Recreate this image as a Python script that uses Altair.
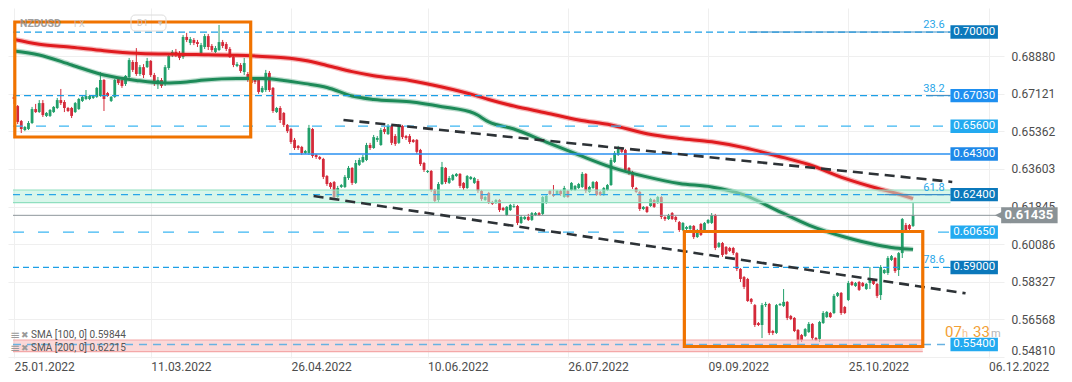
import altair as alt
import pandas as pd

# ---------------- data (NZDUSD D1, bar 0 = 25.01.2022) ----------------
opens = [0.6697,0.6654,0.6584,0.6542,0.6547,0.6575,0.6640,0.6626,0.6668,0.6608,
0.6608,0.6626,0.6645,0.6682,0.6673,0.6645,0.6645,0.6626,0.6640,0.6678,
0.6687,0.6687,0.6692,0.6697,0.6701,0.6776,0.6715,0.6678,0.6697,0.6781,
0.6776,0.6757,0.6790,0.6860,0.6860,0.6804,0.6836,0.6836,0.6865,0.6799,
0.6757,0.6776,0.6757,0.6832,0.6893,0.6907,0.6902,0.6883,0.6977,0.6949,
0.6963,0.6953,0.6902,0.6930,0.6981,0.6935,0.6907,0.6916,0.6953,0.6944,
0.6921,0.6883,0.6841,0.6846,0.6813,0.6804,0.6785,0.6776,0.6776,0.6720,
0.6729,0.6809,0.6739,0.6626,0.6645,0.6622,0.6566,0.6547,0.6496,0.6468,
0.6463,0.6435,0.6435,0.6547,0.6426,0.6416,0.6407,0.6327,0.6295,0.6299,
0.6229,0.6276,0.6276,0.6318,0.6365,0.6295,0.6379,0.6393,0.6402,0.6472,
0.6458,0.6496,0.6472,0.6547,0.6523,0.6561,0.6514,0.6482,0.6561,0.6514,
0.6514,0.6496,0.6496,0.6449,0.6388,0.6346,0.6351,0.6262,0.6215,0.6290,
0.6365,0.6295,0.6309,0.6327,0.6337,0.6295,0.6271,0.6313,0.6295,0.6304,
0.6257,0.6215,0.6248,0.6206,0.6201,0.6215,0.6178,0.6145,0.6168,0.6183,
0.6187,0.6108,0.6126,0.6136,0.6122,0.6145,0.6154,0.6150,0.6201,0.6257,
0.6243,0.6243,0.6257,0.6229,0.6257,0.6262,0.6262,0.6271,0.6276,0.6337,
0.6253,0.6271,0.6299,0.6253,0.6239,0.6262,0.6285,0.6393,0.6426,0.6454,
0.6449,0.6365,0.6346,0.6271,0.6253,0.6173,0.6183,0.6187,0.6215,0.6201,
0.6229,0.6136,0.6126,0.6154,0.6136,0.6112,0.6075,0.6080,0.6080,0.6094,
0.6042,0.6103,0.6075,0.6108,0.6108,0.6145,0.5996,0.6014,0.5996,0.5991,
0.5991,0.5967,0.5893,0.5855,0.5846,0.5753,0.5724,0.5640,0.5631,0.5724,
0.5729,0.5603,0.5594,0.5724,0.5720,0.5739,0.5673,0.5664,0.5608,0.5584,
0.5580,0.5598,0.5636,0.5570,0.5566,0.5640,0.5668,0.5687,0.5687,0.5767,
0.5781,0.5715,0.5748,0.5832,0.5813,0.5832,0.5827,0.5799,0.5827,0.5841,
0.5823,0.5771,0.5874,0.5874,0.5935,0.5944,0.5888,0.5967,0.6098,0.6098,
0.6094]
closes = [0.6687,0.6580,0.6547,0.6556,0.6575,0.6640,0.6626,0.6668,0.6612,0.6622,
0.6636,0.6650,0.6682,0.6668,0.6645,0.6631,0.6608,0.6668,0.6687,0.6697,
0.6701,0.6701,0.6701,0.6739,0.6776,0.6687,0.6701,0.6697,0.6776,0.6762,
0.6748,0.6795,0.6869,0.6823,0.6804,0.6836,0.6799,0.6865,0.6799,0.6771,
0.6776,0.6748,0.6836,0.6888,0.6907,0.6893,0.6879,0.6977,0.6963,0.6967,
0.6949,0.6944,0.6939,0.6981,0.6930,0.6916,0.6925,0.6953,0.6935,0.6921,
0.6883,0.6846,0.6850,0.6818,0.6855,0.6776,0.6762,0.6767,0.6720,0.6739,
0.6809,0.6729,0.6631,0.6645,0.6589,0.6566,0.6537,0.6486,0.6458,0.6458,
0.6435,0.6444,0.6552,0.6421,0.6416,0.6407,0.6323,0.6290,0.6276,0.6229,
0.6271,0.6285,0.6323,0.6365,0.6295,0.6388,0.6402,0.6416,0.6472,0.6458,
0.6509,0.6505,0.6542,0.6533,0.6561,0.6482,0.6477,0.6561,0.6509,0.6505,
0.6486,0.6486,0.6440,0.6383,0.6355,0.6351,0.6262,0.6211,0.6290,0.6369,
0.6299,0.6318,0.6332,0.6337,0.6281,0.6271,0.6327,0.6323,0.6318,0.6257,
0.6220,0.6229,0.6206,0.6197,0.6215,0.6168,0.6168,0.6183,0.6192,0.6187,
0.6108,0.6136,0.6136,0.6122,0.6154,0.6154,0.6145,0.6229,0.6234,0.6243,
0.6234,0.6257,0.6243,0.6271,0.6229,0.6295,0.6281,0.6290,0.6337,0.6257,
0.6276,0.6299,0.6239,0.6239,0.6271,0.6285,0.6402,0.6435,0.6458,0.6440,
0.6355,0.6341,0.6276,0.6253,0.6173,0.6183,0.6159,0.6220,0.6183,0.6229,
0.6136,0.6126,0.6145,0.6126,0.6122,0.6075,0.6108,0.6089,0.6094,0.6042,
0.6075,0.6052,0.6108,0.6122,0.6145,0.5991,0.6014,0.5958,0.5963,0.5977,
0.5967,0.5893,0.5846,0.5809,0.5743,0.5739,0.5631,0.5631,0.5724,0.5729,
0.5594,0.5594,0.5724,0.5729,0.5739,0.5664,0.5659,0.5603,0.5561,0.5561,
0.5612,0.5636,0.5570,0.5561,0.5645,0.5687,0.5692,0.5668,0.5767,0.5781,
0.5687,0.5687,0.5827,0.5818,0.5827,0.5795,0.5813,0.5823,0.5851,0.5823,
0.5767,0.5902,0.5888,0.5944,0.5953,0.5883,0.5967,0.6126,0.6075,0.6080,
0.61435]
highs = [0.6711,0.6659,0.6589,0.6561,0.6584,0.6650,0.6664,0.6682,0.6682,0.6626,
0.6640,0.6654,0.6692,0.6734,0.6682,0.6650,0.6650,0.6673,0.6692,0.6701,
0.6729,0.6706,0.6706,0.6743,0.6813,0.6781,0.6720,0.6701,0.6781,0.6785,
0.6781,0.6799,0.6879,0.6869,0.6925,0.6846,0.6850,0.6879,0.6869,0.6809,
0.6790,0.6785,0.6846,0.6897,0.6916,0.6921,0.6911,0.6986,0.6996,0.6977,
0.6972,0.6963,0.6949,0.6991,0.6991,0.6944,0.6935,0.7033,0.6963,0.6953,
0.6930,0.6893,0.6860,0.6855,0.6879,0.6813,0.6795,0.6785,0.6781,0.6748,
0.6823,0.6818,0.6743,0.6650,0.6654,0.6626,0.6570,0.6552,0.6505,0.6472,
0.6468,0.6449,0.6566,0.6552,0.6430,0.6421,0.6412,0.6332,0.6299,0.6304,
0.6281,0.6290,0.6332,0.6374,0.6369,0.6402,0.6412,0.6426,0.6482,0.6482,
0.6519,0.6514,0.6552,0.6556,0.6570,0.6566,0.6523,0.6570,0.6566,0.6519,
0.6523,0.6500,0.6500,0.6454,0.6393,0.6355,0.6355,0.6267,0.6299,0.6393,
0.6369,0.6327,0.6337,0.6341,0.6341,0.6299,0.6332,0.6327,0.6323,0.6313,
0.6262,0.6234,0.6253,0.6211,0.6220,0.6220,0.6183,0.6187,0.6197,0.6197,
0.6192,0.6145,0.6140,0.6150,0.6159,0.6159,0.6159,0.6234,0.6239,0.6262,
0.6285,0.6262,0.6262,0.6281,0.6262,0.6299,0.6285,0.6295,0.6346,0.6341,
0.6281,0.6304,0.6304,0.6257,0.6276,0.6290,0.6412,0.6444,0.6468,0.6463,
0.6454,0.6369,0.6351,0.6276,0.6257,0.6187,0.6187,0.6225,0.6220,0.6234,
0.6234,0.6140,0.6150,0.6159,0.6140,0.6117,0.6112,0.6094,0.6098,0.6098,
0.6080,0.6108,0.6112,0.6126,0.6154,0.6150,0.6019,0.6019,0.6000,0.5996,
0.5996,0.5972,0.5897,0.5860,0.5851,0.5757,0.5729,0.5645,0.5734,0.5739,
0.5734,0.5608,0.5729,0.5734,0.5799,0.5743,0.5678,0.5668,0.5612,0.5589,
0.5617,0.5645,0.5640,0.5575,0.5650,0.5696,0.5696,0.5692,0.5776,0.5785,
0.5785,0.5720,0.5837,0.5837,0.5832,0.5837,0.5832,0.5827,0.5902,0.5846,
0.5827,0.5911,0.5893,0.5953,0.5958,0.5949,0.5972,0.6131,0.6108,0.6103,
0.6201]
lows = [0.6664,0.6570,0.6528,0.6537,0.6542,0.6570,0.6622,0.6622,0.6603,0.6603,
0.6603,0.6622,0.6640,0.6659,0.6626,0.6626,0.6598,0.6622,0.6636,0.6673,
0.6682,0.6682,0.6687,0.6692,0.6697,0.6631,0.6697,0.6673,0.6692,0.6753,
0.6739,0.6748,0.6785,0.6813,0.6795,0.6795,0.6785,0.6832,0.6790,0.6748,
0.6734,0.6739,0.6748,0.6823,0.6883,0.6883,0.6869,0.6874,0.6953,0.6939,
0.6939,0.6930,0.6888,0.6921,0.6916,0.6907,0.6902,0.6911,0.6925,0.6911,
0.6879,0.6836,0.6836,0.6809,0.6799,0.6767,0.6753,0.6757,0.6711,0.6715,
0.6720,0.6720,0.6622,0.6622,0.6575,0.6556,0.6528,0.6477,0.6449,0.6449,
0.6426,0.6430,0.6426,0.6412,0.6407,0.6402,0.6313,0.6281,0.6267,0.6220,
0.6225,0.6271,0.6271,0.6309,0.6285,0.6290,0.6374,0.6388,0.6397,0.6449,
0.6454,0.6486,0.6468,0.6523,0.6519,0.6472,0.6468,0.6477,0.6500,0.6496,
0.6477,0.6482,0.6430,0.6374,0.6346,0.6341,0.6253,0.6201,0.6206,0.6285,
0.6290,0.6290,0.6304,0.6323,0.6271,0.6262,0.6267,0.6309,0.6290,0.6248,
0.6211,0.6211,0.6197,0.6192,0.6197,0.6159,0.6164,0.6140,0.6164,0.6178,
0.6098,0.6103,0.6122,0.6117,0.6117,0.6140,0.6140,0.6145,0.6197,0.6239,
0.6229,0.6239,0.6234,0.6225,0.6225,0.6257,0.6257,0.6267,0.6271,0.6248,
0.6248,0.6267,0.6234,0.6234,0.6234,0.6257,0.6281,0.6388,0.6421,0.6435,
0.6346,0.6332,0.6267,0.6248,0.6164,0.6168,0.6154,0.6183,0.6178,0.6197,
0.6126,0.6117,0.6122,0.6122,0.6112,0.6066,0.6070,0.6075,0.6075,0.6033,
0.6038,0.6047,0.6070,0.6103,0.6103,0.5981,0.5991,0.5949,0.5958,0.5972,
0.5958,0.5883,0.5832,0.5799,0.5739,0.5729,0.5622,0.5626,0.5570,0.5715,
0.5584,0.5584,0.5589,0.5720,0.5715,0.5654,0.5654,0.5598,0.5533,0.5552,
0.5575,0.5594,0.5561,0.5556,0.5552,0.5636,0.5664,0.5664,0.5682,0.5762,
0.5678,0.5682,0.5743,0.5813,0.5809,0.5790,0.5809,0.5795,0.5799,0.5818,
0.5757,0.5748,0.5869,0.5865,0.5930,0.5874,0.5860,0.5944,0.6070,0.6075,
0.6089]

sma_idx = [0, 7, 16, 25, 34, 42, 48, 53, 62, 69, 75, 81, 87, 94, 100, 110, 119,
           128, 132, 139, 148, 157, 166, 176, 185, 194, 203, 212, 221, 231, 240, 245, 250]
sma100 = [0.6911, 0.6893, 0.6846, 0.6799, 0.6774, 0.6762, 0.6767, 0.6776, 0.6783, 0.6783,
          0.6774, 0.6759, 0.6741, 0.6701, 0.6685, 0.6674, 0.6651, 0.6620, 0.6580, 0.6547,
          0.6486, 0.6426, 0.6369, 0.6323, 0.6292, 0.6276, 0.6239, 0.6168, 0.6098, 0.6042,
          0.6005, 0.5991, 0.59844]
sma200 = [0.6965, 0.6943, 0.6929, 0.6913, 0.6901, 0.6897, 0.6895, 0.6894, 0.6891, 0.6886,
          0.6880, 0.6867, 0.6844, 0.6815, 0.6796, 0.6774, 0.6743, 0.6705, 0.6685, 0.6654,
          0.6622, 0.6589, 0.6566, 0.6525, 0.6503, 0.6487, 0.6460, 0.6422, 0.6381, 0.6316,
          0.6270, 0.6248, 0.62215]

date_ticks = [0, 38, 77, 115, 154, 193, 232, 271]
date_labels = ["25.01.2022", "11.03.2022", "26.04.2022", "10.06.2022",
               "26.07.2022", "09.09.2022", "25.10.2022", "06.12.2022"]
price_ticks = [0.68880, 0.67121, 0.65362, 0.63603, 0.61845, 0.60086, 0.58327, 0.56568, 0.54810]

levels = [0.70000, 0.67030, 0.65600, 0.64300, 0.62400, 0.60650, 0.59000, 0.55400]
level_text = ["0.70000", "0.67030", "0.65600", "0.64300", "0.62400", "0.60650", "0.59000", "0.55400"]
level_start = [-0.3, -0.3, -0.3, 76.5, -0.3, -0.3, -0.3, -0.3]
level_line_color = ["#1c9fe6", "#1c9fe6", "#3cb6f2", "#2a90f0", "#2aa6e8", "#3cb6f2", "#1c9fe6", "#68b2e2"]
level_dash = [[7, 4], [7, 4], [10, 13], [1, 0], [7, 5], [11, 14], [6, 4], [8, 6]]
level_box_color = ["#0b78bb", "#1e8ff0", "#23aaf0", "#1e88e8", "#0b78bb", "#23aaf0", "#0b78bb", "#23aaf0"]

fib_levels = [0.70000, 0.67030, 0.62400, 0.59000]
fib_text = ["23.6", "38.2", "61.8", "78.6"]
fib_seg_start = [204, 254, 242, 260]

zone_lo = [0.62025, 0.55062]
zone_hi = [0.62618, 0.55609]
zone_end = [260.4, 252.7]
zone_fill = ["#b8eed8", "#f8b8b8"]
zone_stroke = ["#8fdfbf", "#f4a8a8"]

trend_id = ["a", "a", "b", "b"]
trend_i = [91.6, 260.9, 83.3, 264.6]
trend_p = [0.65889, 0.62996, 0.62338, 0.57791]

box_i0 = [0.2, 186.4]
box_i1 = [65.8, 252.7]
box_lo = [0.65095, 0.55305]
box_hi = [0.70469, 0.60679]

last_price = 0.61435

# ---------------- layout constants ----------------
W, H = 996, 350
X_DOM = [-0.3, 273.9]
Y_DOM = [0.54768, 0.71123]
PPX = (Y_DOM[1] - Y_DOM[0]) / H          # price per pixel
FONT = "Roboto"
GREEN, RED = "#22a06b", "#d42a3a"

xs = alt.Scale(domain=X_DOM, nice=False, zero=False)
ys = alt.Scale(domain=Y_DOM, nice=False, zero=False)

label_expr = "[" + ",".join("'%s'" % d for d in date_labels) + "][indexof([" + \
    ",".join(str(t) for t in date_ticks) + "], datum.value)]"

x_axis = alt.Axis(values=date_ticks, labelExpr=label_expr, title=None, orient="bottom",
                  domain=False, ticks=False, labelAlign="left", labelBaseline="top",
                  labelPadding=3, labelFontSize=12, labelColor="#4d4d4d", labelFont=FONT,
                  grid=True, gridColor="#efefef", labelFlush=False, labelOverlap=False)
y_axis = alt.Axis(values=price_ticks, format=".5f", orient="right", title=None,
                  domain=False, ticks=False, labelPadding=7, labelFontSize=12,
                  labelColor="#4d4d4d", labelFont=FONT, grid=True, gridColor="#efefef",
                  labelFlush=3, labelOverlap=False, labelAlign="left")


def X(f):
    return alt.X(f, type="quantitative", scale=xs, axis=x_axis)


def Y(f):
    return alt.Y(f, type="quantitative", scale=ys, axis=y_axis)


df = pd.DataFrame({"i": list(range(len(opens))), "open": opens, "high": highs,
                   "low": lows, "close": closes})

layers = []

wicks = alt.Chart(df).transform_calculate(
    col="datum.close >= datum.open ? '%s' : '%s'" % (GREEN, RED)
).mark_rule(strokeWidth=1, clip=True).encode(
    x=X("i"), y=Y("low"), y2="high:Q", color=alt.Color("col:N", scale=None))
layers.append(wicks)

bodies = alt.Chart(df).transform_calculate(
    col="datum.close >= datum.open ? '%s' : '%s'" % (GREEN, RED)
).mark_bar(size=2.8, clip=True).encode(
    x=X("i"), y=Y("open"), y2="close:Q", color=alt.Color("col:N", scale=None))
layers.append(bodies)

# moving averages
sma_df = pd.DataFrame({"i": sma_idx, "s100": sma100, "s200": sma200})
for f, c in [("s100", "#1d8a58"), ("s200", "#e01b1f")]:
    layers.append(alt.Chart(sma_df).mark_line(interpolate="monotone", strokeWidth=5.5,
                                              opacity=0.3, color=c, clip=True)
                  .encode(x=X("i"), y=Y(f)))
    layers.append(alt.Chart(sma_df).mark_line(interpolate="monotone", strokeWidth=3,
                                              color=c, clip=True)
                  .encode(x=X("i"), y=Y(f)))

# zones
for k in range(2):
    zdf = pd.DataFrame({"a": [X_DOM[0]], "b": [zone_end[k]], "lo": [zone_lo[k]], "hi": [zone_hi[k]]})
    layers.append(alt.Chart(zdf).mark_rect(color=zone_fill[k], opacity=0.55, clip=True)
                  .encode(x=X("a"), x2="b:Q", y=Y("lo"), y2="hi:Q"))
    for edge in ["lo", "hi"]:
        layers.append(alt.Chart(zdf).mark_rule(color=zone_stroke[k], strokeWidth=1.2, clip=True)
                      .encode(x=X("a"), x2="b:Q", y=Y(edge)))

# current price line
cp = pd.DataFrame({"a": [X_DOM[0]], "b": [X_DOM[1]], "p": [last_price]})
layers.append(alt.Chart(cp).mark_rule(color="#8e969b", strokeWidth=1)
              .encode(x=X("a"), x2="b:Q", y=Y("p")))

# horizontal levels
BOX_I0, BOX_I1 = 260.4, 273.6
for k, lv in enumerate(levels):
    ldf = pd.DataFrame({"a": [level_start[k]], "b": [BOX_I0], "p": [lv]})
    layers.append(alt.Chart(ldf).mark_rule(color=level_line_color[k], strokeWidth=1.3,
                                           strokeDash=level_dash[k])
                  .encode(x=X("a"), x2="b:Q", y=Y("p")))

# fib short solid segments and labels
for k, lv in enumerate(fib_levels):
    fdf = pd.DataFrame({"a": [fib_seg_start[k]], "b": [BOX_I0], "p": [lv], "t": [fib_text[k]],
                        "m": [255.8]})
    layers.append(alt.Chart(fdf).mark_rule(color="#3d8fc8", strokeWidth=1.1)
                  .encode(x=X("a"), x2="b:Q", y=Y("p")))
    layers.append(alt.Chart(fdf).mark_text(font=FONT, fontSize=11, color="#2aa6e8",
                                           baseline="bottom", align="center", dy=-2)
                  .encode(x=X("m"), y=Y("p"), text="t:N"))

# trend lines
tdf = pd.DataFrame({"id": trend_id, "i": trend_i, "p": trend_p})
layers.append(alt.Chart(tdf).mark_line(color="#2d3236", strokeWidth=2.6, strokeDash=[10, 6])
              .encode(x=X("i"), y=Y("p"), detail="id:N"))

# orange boxes
bdf = pd.DataFrame({"a": box_i0, "b": box_i1, "lo": box_lo, "hi": box_hi})
layers.append(alt.Chart(bdf).mark_rect(fillOpacity=0, stroke="#f07300", strokeWidth=3.2)
              .encode(x=X("a"), x2="b:Q", y=Y("lo"), y2="hi:Q"))

# level label boxes
half = 6.7 * PPX
lbl = pd.DataFrame({"p": levels, "t": level_text, "c": level_box_color,
                    "lo": [v - half for v in levels], "hi": [v + half for v in levels],
                    "a": [BOX_I0] * len(levels), "b": [BOX_I1] * len(levels),
                    "m": [(BOX_I0 + BOX_I1) / 2] * len(levels)})
layers.append(alt.Chart(lbl).mark_rect().encode(
    x=X("a"), x2="b:Q", y=Y("lo"), y2="hi:Q", color=alt.Color("c:N", scale=None)))
layers.append(alt.Chart(lbl).mark_text(font=FONT, fontSize=11.5, color="white",
                                       align="center", baseline="middle")
              .encode(x=X("m"), y=Y("p"), text="t:N"))

# countdown text, just above the 0.55400 box
cd = [("07", 937, 15, "#f2a035"), ("h", 954, 11, "#f6c48e"), ("33", 965, 15, "#f2a035"),
      ("m", 983, 11, "#b5b5b5")]
for t, xp, fs, c in cd:
    layers.append(alt.Chart(pd.DataFrame({"t": [t]})).mark_text(
        font=FONT, fontSize=fs, color=c, align="left", baseline="alphabetic")
        .encode(x=alt.value(xp), y=alt.value(329), text="t:N"))

# current price tag
half2 = 8 * PPX
tag = pd.DataFrame({"a": [274.5], "b": [290.2], "lo": [last_price - half2],
                    "hi": [last_price + half2], "p": [last_price], "tri": [275.0],
                    "m": [282.2], "t": ["0.61435"]})
layers.append(alt.Chart(tag).mark_rect(color="#8a9296", clip=False)
              .encode(x=X("a"), x2="b:Q", y=Y("lo"), y2="hi:Q"))
layers.append(alt.Chart(tag).mark_point(shape="M1,-1L-1,0L1,1Z", size=256, filled=True,
                                        opacity=1, color="#8a9296", clip=False)
              .encode(x=X("tri"), y=Y("p")))
layers.append(alt.Chart(tag).mark_text(font=FONT, fontSize=13, fontWeight="bold",
                                       color="white", align="center", baseline="middle",
                                       clip=False)
              .encode(x=X("m"), y=Y("p"), text="t:N"))

# header (instrument)
hdr = [("NZDUSD", 12, 16, 10.5, "bold", "#8f8f8f"), ("FX", 66, 16, 9, "normal", "#c4c4c4"),
       ("D1", 129, 15, 9, "normal", "#c4c4c4"), ("▾", 150, 15, 9, "normal", "#c4c4c4")]
for t, xp, yp, fs, fw, c in hdr:
    layers.append(alt.Chart(pd.DataFrame({"t": [t]})).mark_text(
        font=FONT, fontSize=fs, fontWeight=fw, color=c, align="left", baseline="middle",
        opacity=0.85).encode(x=alt.value(xp), y=alt.value(yp), text="t:N"))
layers.append(alt.Chart(pd.DataFrame({"t": ["D1"]})).mark_rect(
    fillOpacity=0, stroke="#dcdcdc", strokeWidth=1, cornerRadius=4)
    .encode(x=alt.value(123), x2=alt.value(158), y=alt.value(7), y2=alt.value(23)))

# indicator legend
leg = [("SMA [100, 0] 0.59844", 327), ("SMA [200, 0] 0.62215", 340)]
for t, yp in leg:
    d = pd.DataFrame({"t": [t], "i1": ["≡"], "i2": ["✖"]})
    layers.append(alt.Chart(d).mark_text(font=FONT, fontSize=10, color="#555555",
                                         align="left", baseline="middle")
                  .encode(x=alt.value(23), y=alt.value(yp), text="t:N"))
    layers.append(alt.Chart(d).mark_text(font="DejaVu Sans", fontSize=12, color="#9a9a9a",
                                         align="left", baseline="middle")
                  .encode(x=alt.value(2), y=alt.value(yp), text="i1:N"))
    layers.append(alt.Chart(d).mark_text(font="DejaVu Sans", fontSize=9, color="#9a9a9a",
                                         align="left", baseline="middle")
                  .encode(x=alt.value(13), y=alt.value(yp), text="i2:N"))

chart = alt.layer(*layers).properties(
    width=W, height=H, padding=0, background="white"
).configure_view(stroke=None)

chart.save("out.html", embed_options={"renderer": "svg", "actions": False})
